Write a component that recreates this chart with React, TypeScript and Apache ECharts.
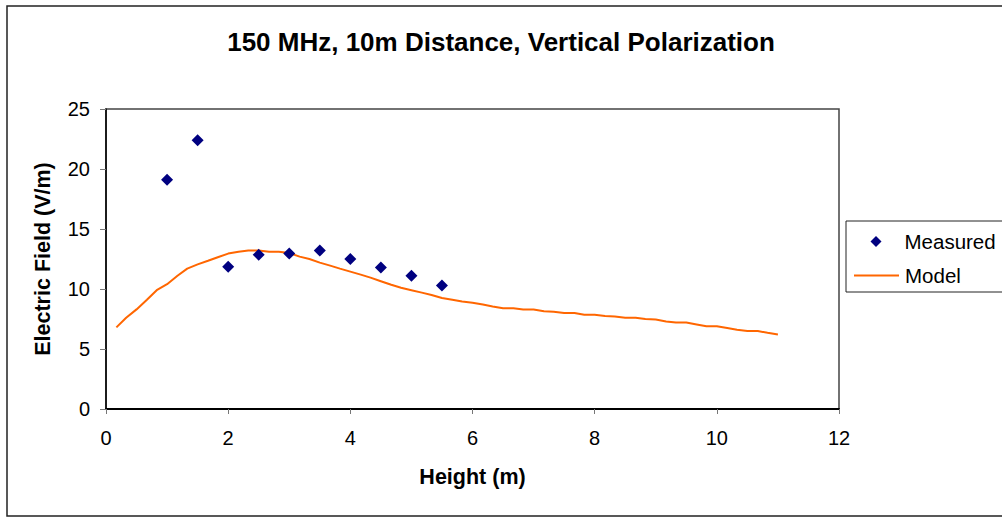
import React, { useEffect, useRef } from "react";
import * as echarts from "echarts";

const titleText = "150 MHz, 10m Distance, Vertical Polarization";
const xAxisName = "Height (m)";
const yAxisName = "Electric Field (V/m)";

const measuredHeights = [1, 1.5, 2, 2.5, 3, 3.5, 4, 4.5, 5, 5.5];
const measuredValues = [19.1, 22.4, 11.85, 12.85, 12.95, 13.2, 12.5, 11.8, 11.1, 10.3];

const modelHeights = [
  0.17, 0.33, 0.5, 0.67, 0.83, 1.0, 1.17, 1.33, 1.5, 1.67, 1.83, 2.0,
  2.17, 2.33, 2.5, 2.67, 2.83, 3.0, 3.17, 3.33, 3.5, 3.67, 3.83, 4.0,
  4.17, 4.33, 4.5, 4.67, 4.83, 5.0, 5.17, 5.33, 5.5, 5.67, 5.83, 6.0,
  6.17, 6.33, 6.5, 6.67, 6.83, 7.0, 7.17, 7.33, 7.5, 7.67, 7.83, 8.0,
  8.17, 8.33, 8.5, 8.67, 8.83, 9.0, 9.17, 9.33, 9.5, 9.67, 9.83, 10.0,
  10.17, 10.33, 10.5, 10.67, 10.83, 11.0,
];
const modelValues = [
  6.8, 7.6, 8.3, 9.1, 9.9, 10.4, 11.1, 11.7, 12.05, 12.35, 12.65, 12.95,
  13.1, 13.2, 13.2, 13.1, 13.1, 13.0, 12.7, 12.5, 12.2, 11.95, 11.7, 11.45,
  11.2, 10.95, 10.65, 10.35, 10.1, 9.9, 9.7, 9.5, 9.25, 9.1, 8.95, 8.85,
  8.7, 8.55, 8.4, 8.4, 8.3, 8.3, 8.15, 8.1, 8.0, 8.0, 7.85, 7.85,
  7.75, 7.7, 7.6, 7.6, 7.5, 7.45, 7.3, 7.2, 7.2, 7.05, 6.9, 6.9,
  6.75, 6.6, 6.5, 6.5, 6.35, 6.2,
];

const FONT = "'Liberation Sans', Arial, sans-serif";
const NAVY = "#000080";
const ORANGE = "#FF6600";

export default function App() {
  const ref = useRef<HTMLDivElement>(null);
  useEffect(() => {
    document.body.style.margin = "0";
    const chart = echarts.init(ref.current!, null, { renderer: "svg" });
    const legendText = { fontFamily: FONT, fontSize: 20.5, color: "#000", lineHeight: 20 };
    chart.setOption({
      animation: false,
      backgroundColor: "#ffffff",
      textStyle: { fontFamily: FONT },
      title: {
        text: titleText,
        left: "center",
        top: 24,
        textStyle: { fontFamily: FONT, fontSize: 26, fontWeight: "bold", color: "#000" },
      },
      graphic: [
        {
          type: "rect",
          shape: { x: 7, y: 6, width: 1000, height: 510 },
          style: { fill: "none", stroke: "#222", lineWidth: 1.5 },
          silent: true,
          z: -1,
        },
        {
          type: "rect",
          shape: { x: 846, y: 221, width: 170, height: 71 },
          style: { fill: "#fff", stroke: "#222", lineWidth: 1 },
          silent: true,
          z: -1,
        },
      ],
      legend: [
        {
          orient: "vertical",
          left: 870.5,
          top: 231,
          padding: 0,
          itemWidth: 11,
          itemHeight: 11,
          textStyle: { ...legendText, padding: [0, 0, 0, 18] },
          data: [{ name: "Measured", icon: "diamond" }],
        },
        {
          orient: "vertical",
          left: 854,
          top: 265,
          padding: 0,
          itemWidth: 45,
          itemHeight: 2,
          textStyle: { ...legendText, padding: [0, 0, 0, 1] },
          data: [{ name: "Model", icon: "rect" }],
        },
      ],
      grid: {
        left: 106,
        top: 109,
        right: 163,
        bottom: 108,
        show: true,
        borderColor: "#444",
        borderWidth: 1.5,
        backgroundColor: "#fff",
      },
      xAxis: {
        type: "value",
        min: 0,
        max: 12,
        interval: 2,
        name: xAxisName,
        nameLocation: "middle",
        nameGap: 57,
        nameTextStyle: { fontFamily: FONT, fontSize: 21.5, fontWeight: "bold", color: "#000" },
        axisLine: { show: true, onZero: false, lineStyle: { color: "#000", width: 2 } },
        axisTick: { show: true, length: 5, lineStyle: { color: "#777", width: 1 } },
        axisLabel: { fontFamily: FONT, fontSize: 20, color: "#000", margin: 19 },
        splitLine: { show: false },
      },
      yAxis: {
        type: "value",
        min: 0,
        max: 25,
        interval: 5,
        name: yAxisName,
        nameLocation: "middle",
        nameGap: 52,
        nameTextStyle: { fontFamily: FONT, fontSize: 21.5, fontWeight: "bold", color: "#000" },
        axisLine: { show: true, onZero: false, lineStyle: { color: "#000", width: 1.5 } },
        axisTick: { show: true, length: 6, lineStyle: { color: "#777", width: 1 } },
        axisLabel: { fontFamily: FONT, fontSize: 20, color: "#000", margin: 16 },
        splitLine: { show: false },
      },
      series: [
        {
          name: "Measured",
          type: "scatter",
          symbol: "diamond",
          symbolSize: 12,
          itemStyle: { color: NAVY, opacity: 1 },
          data: measuredHeights.map((h, i) => [h, measuredValues[i]]),
          z: 3,
        },
        {
          name: "Model",
          type: "line",
          showSymbol: false,
          symbol: "none",
          lineStyle: { color: ORANGE, width: 2 },
          itemStyle: { color: ORANGE },
          data: modelHeights.map((h, i) => [h, modelValues[i]]),
          z: 2,
        },
      ],
    });
    return () => chart.dispose();
  }, []);
  return (
    <div
      ref={ref}
      style={{ position: "fixed", left: 0, top: 0, width: 1002, height: 517 }}
    />
  );
}
